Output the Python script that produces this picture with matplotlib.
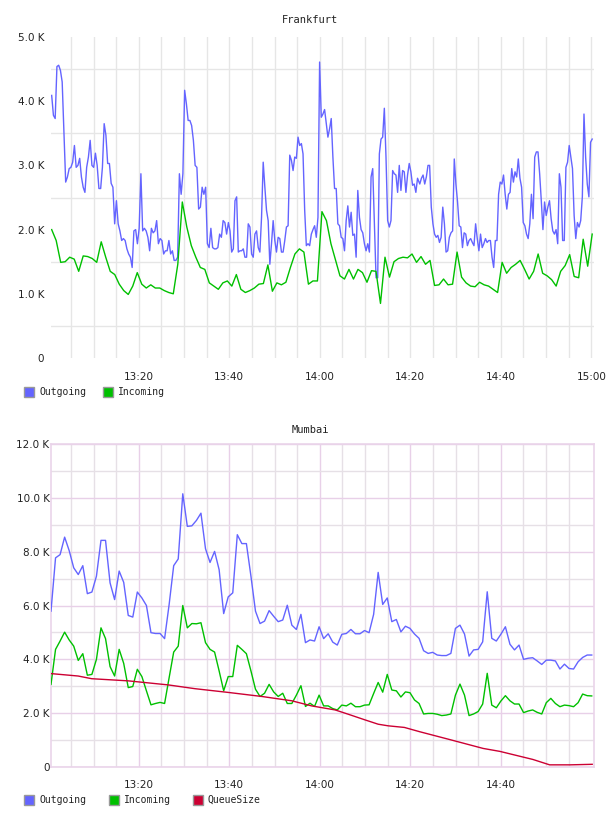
import numpy as np
import matplotlib.pyplot as plt
from matplotlib.patches import Rectangle
from matplotlib.ticker import FixedLocator

# ---- Frankfurt (values in K, time in minutes after 13:00) ----
fra_out_a = [4.09, 3.78, 3.73, 4.54, 4.56, 4.48, 4.30, 3.5, 2.74, 2.82,
             2.95, 2.97, 3.05, 3.31, 2.97, 3.0, 3.11, 2.82, 2.66, 2.58,
             2.97, 3.13, 3.39, 3.0, 2.97, 3.19, 3.0, 2.64, 2.64, 2.97,
             3.65, 3.47, 3.03, 3.03, 2.72, 2.66, 2.09, 2.45, 2.09, 1.98,
             1.83, 1.86, 1.83, 1.70, 1.62, 1.57, 1.41, 1.98, 2.0, 1.78,
             2.02, 2.87, 1.98, 2.02, 1.98, 1.88, 1.67, 2.02, 1.95, 1.98,
             2.14, 1.78, 1.86, 1.83, 1.62, 1.67, 1.67, 1.83, 1.62, 1.67,
             1.52, 1.52, 1.57, 2.87, 2.55, 2.87, 4.17, 3.96, 3.70, 3.70,
             3.62, 3.39, 3.0, 2.97, 2.32, 2.35, 2.66, 2.55, 2.66, 1.78,
             1.72, 2.02, 1.72, 1.70, 1.70, 1.72, 1.93, 1.88, 2.14, 2.11,
             1.93, 2.11]
fra_out_b = [1.98, 1.65, 1.70, 2.45, 2.51, 1.65, 1.67, 1.67, 1.70, 1.57,
             1.57, 2.09, 2.04, 1.62, 1.57, 1.93, 1.98, 1.72, 1.65, 2.19,
             3.05, 2.66, 2.30, 2.14, 1.46, 1.78, 2.14, 1.83, 1.65, 1.88,
             1.86, 1.65, 1.65, 1.83, 2.04, 2.06, 3.16, 3.08, 2.92, 3.13,
             3.11, 3.44, 3.31, 3.34, 3.18, 2.30, 1.75, 1.78, 1.75, 1.93,
             2.0, 2.06, 1.88, 2.19, 4.61, 3.75, 3.80, 3.87, 3.65, 3.44,
             3.57, 3.73, 3.13, 2.64, 2.64, 2.09, 2.06, 1.88, 1.86, 1.67,
             2.14, 2.37, 2.04, 2.27, 1.91, 1.93, 1.57, 2.61, 2.19, 2.0,
             1.95, 1.78, 1.67, 1.78, 1.65, 2.82, 2.95, 2.09, 1.25, 1.25,
             3.18, 3.41, 3.44, 3.89, 3.13, 2.14, 2.04, 2.14, 2.92, 2.87,
             2.85, 2.58, 3.0, 2.61, 2.92, 2.90, 2.58, 2.85, 3.03, 2.90,
             2.69, 2.71, 2.58, 2.80]
fra_out_c = [2.71, 2.80, 2.85, 2.71, 2.82, 3.0, 3.0, 2.35, 2.09, 1.93,
             1.88, 1.91, 1.80, 1.88, 2.35, 2.09, 1.65, 1.67, 1.88, 1.95,
             1.98, 3.10, 2.71, 2.43, 2.06, 2.04, 1.72, 1.95, 1.93, 1.75,
             1.83, 1.86, 1.80, 1.75, 2.09, 1.86, 1.67, 1.93, 1.72, 1.78,
             1.86, 1.80, 1.83, 1.83, 1.57, 1.41, 1.83, 1.83, 2.55, 2.74,
             2.71, 2.85, 2.55, 2.32, 2.55, 2.58, 2.95, 2.74, 2.90, 2.82,
             3.10, 2.80, 2.66, 2.11, 2.06, 1.93, 1.86, 2.09, 2.55, 2.17,
             3.13, 3.21, 3.21, 2.87, 2.45, 2.00, 2.43, 2.22, 2.35, 2.45,
             2.17, 1.98, 1.93, 2.0, 1.78, 2.87, 2.66, 1.83, 1.83, 2.97,
             3.05, 3.31, 3.13, 2.95, 2.22, 1.86, 2.11, 2.04, 2.14, 2.51,
             3.80, 3.13, 2.71, 2.51, 3.36, 3.41]
fra_out_spans = [(0.75, 39.8), (40.16, 81.6), (82.1, 120.2)]

fra_in = [2.0, 1.83, 1.49, 1.50, 1.57, 1.54, 1.35, 1.59, 1.58, 1.55,
          1.49, 1.81, 1.57, 1.35, 1.30, 1.15, 1.05, 0.99, 1.12, 1.33,
          1.15, 1.09, 1.14, 1.09, 1.09, 1.05, 1.02, 1.0, 1.46, 2.43,
          2.04, 1.75, 1.57, 1.41, 1.38, 1.17, 1.12, 1.07, 1.17, 1.20,
          1.12, 1.30, 1.07, 1.02, 1.05, 1.09, 1.15, 1.16, 1.45, 1.04,
          1.17, 1.14, 1.18, 1.41, 1.62, 1.70, 1.65, 1.15, 1.20, 1.20,
          2.28, 2.14, 1.78, 1.53, 1.28, 1.23, 1.38, 1.23, 1.38, 1.33,
          1.18, 1.36, 1.35, 0.85, 1.57, 1.26, 1.50, 1.55, 1.57, 1.56,
          1.62, 1.49, 1.58, 1.46, 1.52, 1.13, 1.14, 1.23, 1.14, 1.15,
          1.65, 1.26, 1.17, 1.12, 1.11, 1.18, 1.14, 1.12, 1.07, 1.02,
          1.49, 1.32, 1.41, 1.46, 1.52, 1.38, 1.23, 1.35, 1.62, 1.32,
          1.28, 1.22, 1.12, 1.35, 1.44, 1.61, 1.27, 1.25, 1.85, 1.43,
          1.93]
fra_in_span = (0.75, 120.2)

# ---- Mumbai ----
mum_out = [5.79, 7.77, 7.89, 8.54, 8.04, 7.40, 7.15, 7.48, 6.44, 6.50,
           7.09, 8.42, 8.42, 6.84, 6.22, 7.28, 6.86, 5.63, 5.57, 6.50,
           6.28, 6.0, 4.99, 4.96, 4.96, 4.77, 6.04, 7.48, 7.73, 10.15,
           8.94, 8.96, 9.16, 9.43, 8.11, 7.60, 8.01, 7.33, 5.70, 6.32,
           6.47, 8.63, 8.30, 8.30, 7.09, 5.79, 5.33, 5.42, 5.81, 5.60,
           5.40, 5.46, 6.01, 5.27, 5.11, 5.67, 4.62, 4.72, 4.68, 5.21,
           4.77, 4.95, 4.64, 4.53, 4.93, 4.96, 5.11, 4.95, 4.95, 5.07,
           4.99, 5.67, 7.23, 6.04, 6.28, 5.40, 5.48, 5.02, 5.23,
           5.15, 4.94, 4.78, 4.32, 4.22, 4.26, 4.16, 4.14, 4.14, 4.22,
           5.15, 5.27, 4.94, 4.12, 4.35, 4.37, 4.65, 6.51, 4.78, 4.68,
           4.93, 5.21, 4.56, 4.35, 4.53, 4.0, 4.04, 4.06, 3.94, 3.81,
           3.97, 3.97, 3.94, 3.64, 3.82, 3.66, 3.64, 3.91, 4.07, 4.16,
           4.16]
mum_in = [3.07, 4.37, 4.68, 5.01, 4.72, 4.49, 3.96, 4.21, 3.41, 3.44,
          4.0, 5.17, 4.77, 3.73, 3.38, 4.37, 3.85, 2.95, 2.99, 3.63,
          3.36, 2.83, 2.31, 2.36, 2.40, 2.36, 3.32, 4.27, 4.49, 6.0,
          5.17, 5.33, 5.32, 5.36, 4.62, 4.37, 4.27, 3.57, 2.83, 3.36,
          3.36, 4.52, 4.37, 4.21, 3.57, 2.89, 2.62, 2.74, 3.07, 2.79,
          2.62, 2.74, 2.36, 2.36, 2.67, 3.02, 2.25, 2.37, 2.25, 2.67,
          2.27, 2.27, 2.17, 2.12, 2.30, 2.27, 2.37, 2.24, 2.24, 2.30,
          2.31, 2.73, 3.14, 2.78, 3.44, 2.86, 2.83, 2.60, 2.79,
          2.76, 2.49, 2.36, 1.97, 1.99, 1.99, 1.96, 1.91, 1.93, 1.97,
          2.67, 3.08, 2.67, 1.91, 1.97, 2.06, 2.34, 3.48, 2.30, 2.20,
          2.45, 2.65, 2.46, 2.34, 2.34, 2.02, 2.08, 2.12, 2.03, 1.97,
          2.39, 2.55, 2.36, 2.24, 2.30, 2.28, 2.24, 2.39, 2.71, 2.65,
          2.64]
mum_span = (0.6, 120.1)

queue_t = [0.6, 6.6, 9.6, 17.7, 26.5, 32.4, 39.8, 47.2, 53.8, 58.2, 63.4,
           66.3, 70.0, 72.9, 75.1, 78.7, 82.1, 88.7, 96.1, 99.8, 107.1,
           110.8, 115.3, 120.2]
queue_v = [3.47, 3.38, 3.28, 3.20, 3.05, 2.91, 2.77, 2.62, 2.46, 2.27, 2.12,
           1.96, 1.75, 1.59, 1.53, 1.47, 1.31, 1.02, 0.69, 0.58, 0.28,
           0.08, 0.08, 0.10]

time_labels = ['13:20', '13:40', '14:00', '14:20', '14:40', '15:00']
time_ticks = [20, 40, 60, 80, 100, 120]

BLUE = '#6464ff'
GREEN = '#00c000'
RED = '#cc0033'
MONO = 'DejaVu Sans Mono'
W, H = 608, 816


def fx(x):
    return x / W


def fy(y):
    return 1 - y / H


def legend(fig, y, items):
    for x, color, label in items:
        fig.add_artist(Rectangle((fx(x), fy(y + 5)), 10 / W, 10 / H,
                                 transform=fig.transFigure, facecolor=color,
                                 edgecolor='#999999', lw=1))
        fig.text(fx(x + 15), fy(y), label, fontsize=7, family=MONO,
                 ha='left', va='center', color='#222222')


fig = plt.figure(figsize=(6.08, 8.16), dpi=100)
xlim = (0.6, 120.6)

# ---------------- top chart ----------------
ax1 = fig.add_axes([fx(51), fy(358), 543 / W, 321 / H])
t_out = np.concatenate([np.linspace(a, b, len(v)) for (a, b), v in
                        zip(fra_out_spans, [fra_out_a, fra_out_b, fra_out_c])])
v_out = np.array(fra_out_a + fra_out_b + fra_out_c)
t_in = np.linspace(fra_in_span[0], fra_in_span[1], len(fra_in))
ax1.plot(t_out, v_out, color=BLUE, lw=1.0, zorder=3)
ax1.plot(t_in, fra_in, color=GREEN, lw=1.0, zorder=3)
ax1.set_xlim(*xlim)
ax1.set_ylim(0, 5)
for s in ax1.spines.values():
    s.set_visible(False)
ax1.set_xticks(time_ticks)
ax1.set_xticklabels(time_labels)
ax1.xaxis.set_minor_locator(FixedLocator(np.arange(5, 121, 5)))
ax1.set_yticks([0, 1, 2, 3, 4, 5])
ax1.set_yticklabels(['0', '1.0 K', '2.0 K', '3.0 K', '4.0 K', '5.0 K'])
ax1.yaxis.set_minor_locator(FixedLocator([0.5, 1.5, 2.5, 3.5, 4.5]))
ax1.tick_params(which='both', length=0)
ax1.tick_params(axis='y', pad=5, labelsize=7.5, colors='#222222')
ax1.tick_params(axis='x', pad=10, labelsize=7.5, colors='#222222')
ax1.grid(axis='x', which='both', color='#e6e6e6', lw=1)
ax1.grid(axis='y', which='minor', color='#e6e6e6', lw=1)
ax1.grid(axis='y', which='major', visible=False)
ax1.set_axisbelow(True)
fig.text(fx(310), fy(20), 'Frankfurt', fontsize=7.5, family=MONO,
         ha='center', va='center', color='#222222')
legend(fig, 392, [(24, BLUE, 'Outgoing'), (103, GREEN, 'Incoming')])

# ---------------- bottom chart ----------------
ax2 = fig.add_axes([fx(51), fy(767), 543 / W, 323 / H])
t_m = np.linspace(mum_span[0], mum_span[1], len(mum_out))
ax2.plot(t_m, mum_out, color=BLUE, lw=1.0, zorder=3)
ax2.plot(t_m, mum_in, color=GREEN, lw=1.0, zorder=3)
ax2.plot(queue_t, queue_v, color=RED, lw=1.0, zorder=3)
ax2.set_xlim(*xlim)
ax2.set_ylim(0, 12)
for s in ax2.spines.values():
    s.set_color('#ead4ea')
    s.set_linewidth(1.2)
ax2.set_xticks(time_ticks[:-1])
ax2.set_xticklabels(time_labels[:-1])
ax2.xaxis.set_minor_locator(FixedLocator(np.arange(5, 120, 5)))
ax2.set_yticks([0, 2, 4, 6, 8, 10, 12])
ax2.set_yticklabels(['0', '2.0 K', '4.0 K', '6.0 K', '8.0 K', '10.0 K', '12.0 K'])
ax2.yaxis.set_minor_locator(FixedLocator([1, 3, 5, 7, 9, 11]))
ax2.tick_params(which='both', length=0)
ax2.tick_params(axis='y', pad=1, labelsize=7.5, colors='#222222')
ax2.tick_params(axis='x', pad=9, labelsize=7.5, colors='#222222')
ax2.grid(which='minor', color='#e6e0e6', lw=1)
ax2.grid(which='major', color='#e8d0e8', lw=1)
ax2.set_axisbelow(True)
fig.text(fx(310), fy(430), 'Mumbai', fontsize=7.5, family=MONO,
         ha='center', va='center', color='#222222')
legend(fig, 800, [(24, BLUE, 'Outgoing'), (109, GREEN, 'Incoming'),
                  (193, RED, 'QueueSize')])

fig.savefig('out.png', dpi=100)
